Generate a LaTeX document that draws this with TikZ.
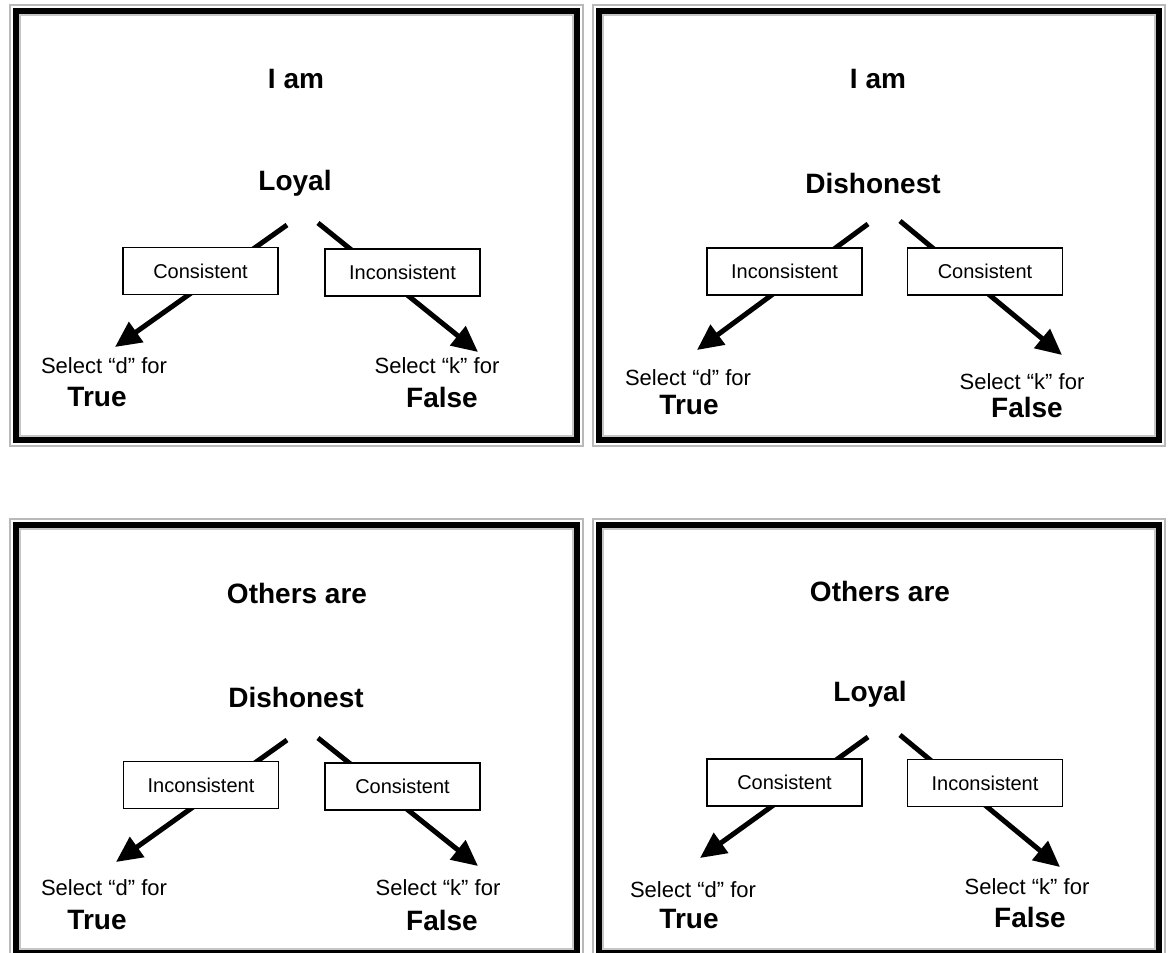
\documentclass[tikz,border=0pt]{standalone}
\usepackage{fontspec}
\setmainfont{Liberation Sans}
\usetikzlibrary{arrows.meta}
\newcommand{\pframe}[4]{%
  \draw[gray!55, line width=2pt] (#1+1,#2+1) rectangle (#3-1,#4-1);
  \draw[black, line width=6.5pt] (#1+7,#2+7) rectangle (#3-7,#4-7);
  \draw[gray!45, line width=1.5pt] (#1+11,#2+11) rectangle (#3-11,#4-11);
}
\tikzset{
  head/.style={font=\fontsize{28}{30}\selectfont\bfseries, inner sep=0pt},
  word/.style={font=\fontsize{28}{30}\selectfont\bfseries, inner sep=0pt},
  sel/.style={font=\fontsize{22}{24}\selectfont, inner sep=0pt},
  ans/.style={font=\fontsize{28}{30}\selectfont\bfseries, inner sep=0pt},
  cbox/.style={draw, line width=1.8pt, fill=white, minimum width=155pt, minimum height=47pt, inner sep=0pt, font=\fontsize{20}{22}\selectfont},
  bigarrow/.style={line width=5pt, -{Triangle[length=26pt,width=24pt]}},
}
\begin{document}
\begin{tikzpicture}[x=1pt,y=-1pt]
\useasboundingbox (0,0) rectangle (1170,953);
\fill[white] (0,0) rectangle (1170,953);
% frames
\pframe{9}{4}{584}{447}
\pframe{592}{4}{1166}{447}
\pframe{9}{518}{584}{960}
\pframe{592}{518}{1166}{960}

% ---------- Top left ----------
\node[head] (tlHead) at (296,79) {I am};
\node[word] (tlWord) at (295,183) {Loyal};
\coordinate (tlLs) at (287,225); \coordinate (tlLe) at (115,347);
\coordinate (tlRs) at (318,223); \coordinate (tlRe) at (478,352);
\draw[bigarrow] (tlLs) -- (tlLe);
\draw[bigarrow] (tlRs) -- (tlRe);
\node[cbox] (tlBoxL) at (200.5,271) {Consistent};
\node[cbox] (tlBoxR) at (402.5,272.5) {Inconsistent};
\node[sel] (tlSelD) at (104,366) {Select “d” for};
\node[ans] (tlTrue) at (97,397) {True};
\node[sel] (tlSelK) at (437,366) {Select “k” for};
\node[ans] (tlFalse) at (442,397) {False};

% ---------- Top right ----------
\node[head] (trHead) at (878,79) {I am};
\node[word] (trWord) at (873,183) {Dishonest};
\coordinate (trLs) at (868,224); \coordinate (trLe) at (697,350);
\coordinate (trRs) at (900,221); \coordinate (trRe) at (1062,355);
\draw[bigarrow] (trLs) -- (trLe);
\draw[bigarrow] (trRs) -- (trRe);
\node[cbox] (trBoxL) at (784.5,271.5) {Inconsistent};
\node[cbox] (trBoxR) at (985,271.5) {Consistent};
\node[sel] (trSelD) at (688,378) {Select “d” for};
\node[ans] (trTrue) at (689,405) {True};
\node[sel] (trSelK) at (1022,382) {Select “k” for};
\node[ans] (trFalse) at (1027,407) {False};

% ---------- Bottom left ----------
\node[head] (blHead) at (297,593) {Others are};
\node[word] (blWord) at (296,697) {Dishonest};
\coordinate (blLs) at (287,740); \coordinate (blLe) at (116,862);
\coordinate (blRs) at (318,738); \coordinate (blRe) at (478,866);
\draw[bigarrow] (blLs) -- (blLe);
\draw[bigarrow] (blRs) -- (blRe);
\node[cbox] (blBoxL) at (201,785) {Inconsistent};
\node[cbox] (blBoxR) at (402.5,786.5) {Consistent};
\node[sel] (blSelD) at (104,888) {Select “d” for};
\node[ans] (blTrue) at (97,920) {True};
\node[sel] (blSelK) at (438,888) {Select “k” for};
\node[ans] (blFalse) at (442,920) {False};

% ---------- Bottom right ----------
\node[head] (brHead) at (880,591) {Others are};
\node[word] (brWord) at (870,694) {Loyal};
\coordinate (brLs) at (868,737); \coordinate (brLe) at (700,858);
\coordinate (brRs) at (900,735); \coordinate (brRe) at (1060,867);
\draw[bigarrow] (brLs) -- (brLe);
\draw[bigarrow] (brRs) -- (brRe);
\node[cbox] (brBoxL) at (784.5,782.5) {Consistent};
\node[cbox] (brBoxR) at (985,783) {Inconsistent};
\node[sel] (brSelD) at (693,890) {Select “d” for};
\node[ans] (brTrue) at (689,919) {True};
\node[sel] (brSelK) at (1027,887) {Select “k” for};
\node[ans] (brFalse) at (1030,917) {False};
\end{tikzpicture}
\end{document}
